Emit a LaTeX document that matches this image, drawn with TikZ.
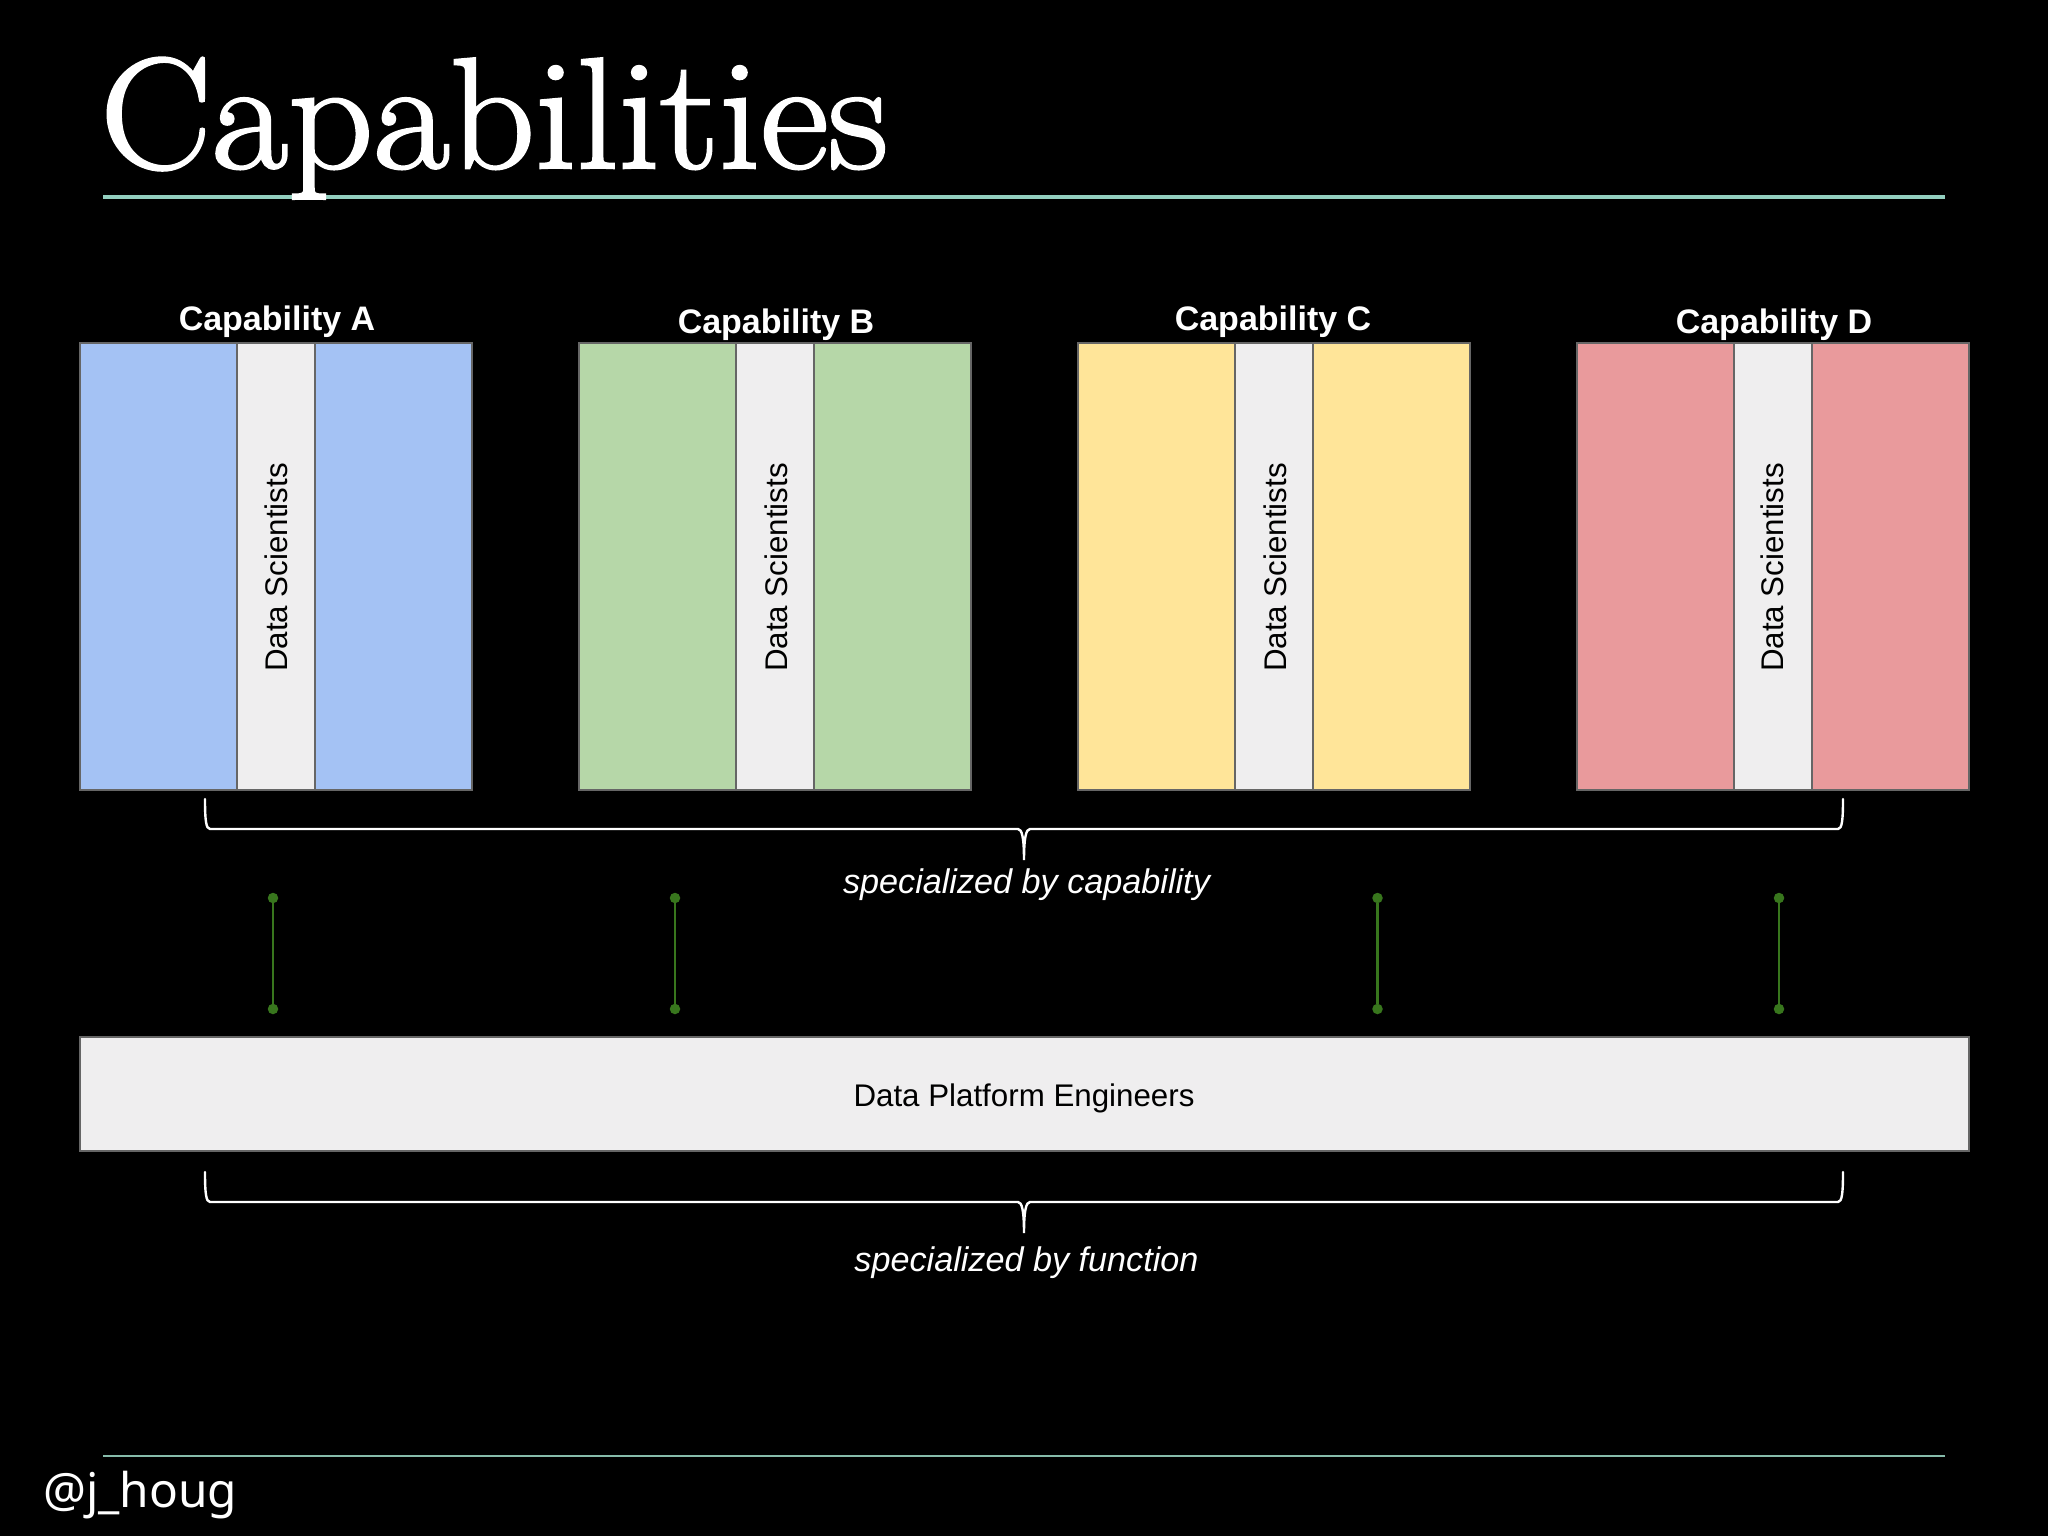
\documentclass[tikz,border=0pt]{standalone}
\usepackage{fontspec}
\setmainfont{Liberation Sans}
\newfontfamily\titlefont[RawFeature={embolden=1.6}]{Latin Modern Roman}
\newfontfamily\handlefont{Noto Sans}
\definecolor{ruleC}{HTML}{93CFBF}
\definecolor{ruleD}{HTML}{86BBAA}
\definecolor{blueC}{HTML}{A4C2F4}
\definecolor{greenC}{HTML}{B6D7A8}
\definecolor{yellowC}{HTML}{FFE599}
\definecolor{redC}{HTML}{E99A9C}
\definecolor{greyC}{HTML}{EFEEEF}
\definecolor{edgeC}{HTML}{666666}
\definecolor{linkC}{HTML}{38761D}
\tikzset{
  panel/.style={draw=edgeC,line width=2pt,fill=#1,minimum width=392pt,minimum height=447pt,inner sep=0pt,outer sep=0pt},
  strip/.style={draw=edgeC,line width=2pt,fill=greyC,minimum width=78.5pt,minimum height=447pt,inner sep=0pt,outer sep=0pt},
  stripText/.style={rotate=90,font=\fontsize{31.3}{34}\selectfont,text=black,inner sep=0pt},
  headText/.style={font=\bfseries\fontsize{34}{36}\selectfont,text=white,inner sep=0pt,anchor=base},
  noteText/.style={font=\itshape\fontsize{34.2}{36}\selectfont,text=white,inner sep=0pt,anchor=base},
  braceLine/.style={draw=white,line width=2.4pt,line cap=round},
  linkLine/.style={draw=linkC,line width=2.4pt},
  linkDot/.style={circle,fill=linkC,minimum size=10.5pt,inner sep=0pt,outer sep=0pt},
}
\begin{document}
\begin{tikzpicture}[x=1pt,y=-1pt]
\useasboundingbox (0,0) rectangle (2048,1536);
\fill[black] (0,0) rectangle (2048,1536);
% rules
\coordinate (r1a) at (103,197); \coordinate (r1b) at (1945,197);
\draw[ruleC,line width=4pt] (r1a) -- (r1b);
\coordinate (r2a) at (103,1456); \coordinate (r2b) at (1945,1456);
\draw[ruleD,line width=2.5pt] (r2a) -- (r2b);
% title and footer
\node[anchor=base west,inner sep=0pt,text=white,font=\titlefont\fontsize{158}{165}\selectfont,xscale=1.055,transform shape] (title) at (100,168) {Capabilities};
\node[anchor=base west,inner sep=0pt,text=white,font=\handlefont\fontsize{47.8}{50}\selectfont] (handle) at (43,1507) {@j\_houg};
% panels
\node[panel=blueC] (pa) at (276,566.5) {};
\node[panel=greenC] (pb) at (775,566.5) {};
\node[panel=yellowC] (pc) at (1274,566.5) {};
\node[panel=redC] (pd) at (1773,566.5) {};
\node[strip] (sa) at (275.8,566.5) {};
\node[strip] (sb) at (774.8,566.5) {};
\node[strip] (sc) at (1273.8,566.5) {};
\node[strip] (sd) at (1772.8,566.5) {};
\node[stripText] (ta) at (276,567.5) {Data Scientists};
\node[stripText] (tb) at (776.5,567.5) {Data Scientists};
\node[stripText] (tc) at (1275,567.5) {Data Scientists};
\node[stripText] (td) at (1772.5,567.5) {Data Scientists};
\node[headText] (ha) at (277,330) {Capability A};
\node[headText] (hb) at (776,333) {Capability B};
\node[headText] (hc) at (1273,330) {Capability C};
\node[headText] (hd) at (1774,333) {Capability D};
% platform bar
\node[draw=edgeC,line width=2pt,fill=greyC,minimum width=1889pt,minimum height=114pt,inner sep=0pt,outer sep=0pt] (plat) at (1024.5,1093.5) {};
\node[inner sep=0pt,text=black,font=\fontsize{31.3}{34}\selectfont] (platlabel) at (1024,1098.5) {Data Platform Engineers};
% braces
\coordinate (b1l) at (205,799); \coordinate (b1r) at (1843,799); \coordinate (b1t) at (1024,860);
\draw[braceLine] (b1l) .. controls (205,820) and (206,829) .. (210,829) -- (1018,829)
  .. controls (1022,829) and (1024,838) .. (b1t) .. controls (1024,838) and (1026,829) .. (1030,829)
  -- (1838,829) .. controls (1842,829) and (1843,820) .. (b1r);
\coordinate (b2l) at (205,1172); \coordinate (b2r) at (1843,1172); \coordinate (b2t) at (1024,1233);
\draw[braceLine] (b2l) .. controls (205,1193) and (206,1202) .. (210,1202) -- (1018,1202)
  .. controls (1022,1202) and (1024,1211) .. (b2t) .. controls (1024,1211) and (1026,1202) .. (1030,1202)
  -- (1838,1202) .. controls (1842,1202) and (1843,1193) .. (b2r);
\node[noteText] (n1) at (1026.5,893) {specialized by capability};
\node[noteText] (n2) at (1026.5,1271) {specialized by function};
% links
\node[linkDot] (l1a) at (273,898) {}; \node[linkDot] (l1b) at (273,1009) {};
\node[linkDot] (l2a) at (675,898) {}; \node[linkDot] (l2b) at (675,1009) {};
\node[linkDot] (l3a) at (1377.5,898) {}; \node[linkDot] (l3b) at (1377.5,1009) {};
\node[linkDot] (l4a) at (1779,898) {}; \node[linkDot] (l4b) at (1779,1009) {};
\draw[linkLine] (l1a) -- (l1b);
\draw[linkLine] (l2a) -- (l2b);
\draw[linkLine] (l3a) -- (l3b);
\draw[linkLine] (l4a) -- (l4b);
\end{tikzpicture}
\end{document}
